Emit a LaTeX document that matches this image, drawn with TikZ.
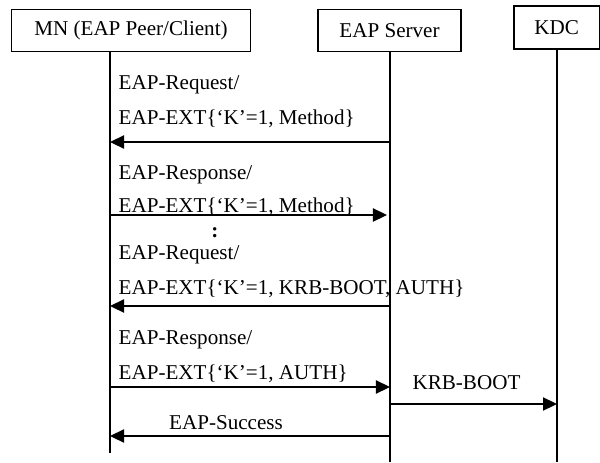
\documentclass[tikz,border=0pt]{standalone}
\usepackage{fontspec}
\setmainfont{Liberation Serif}
\usetikzlibrary{arrows.meta}
\begin{document}
\begin{tikzpicture}
[x=0.025cm, y=-0.025cm, font=\fontsize{15}{18}\selectfont, draw=black, line width=1pt,
actor/.style={rectangle, draw, inner sep=0pt, minimum height=1.05cm},
msg/.style={anchor=base west, inner sep=0pt},
lbl/.style={anchor=base, inner sep=0pt},
call/.style={-{Triangle[length=3.5mm, width=3.3mm]}}
]
\useasboundingbox (0,0) rectangle (600,462);

\node[actor, minimum width=5.975cm] (mn) at (131,30.5) {MN (EAP Peer/Client)};
\node[actor, minimum width=3.575cm] (srv) at (389.5,30.5) {EAP Server};
\node[actor, minimum width=2.1375cm, minimum height=1.075cm] (kdc) at (556.75,27.5) {KDC};

\coordinate (mnend) at (110,453);
\coordinate (srvend) at (390,462);
\coordinate (kdcend) at (557,462);
\draw (mn.south -| mnend) -- (mnend);
\draw (srv.south -| srvend) -- (srvend);
\draw (kdc.south -| kdcend) -- (kdcend);

\node[msg] (req1) at (118,89) {EAP-Request/};
\node[msg] (ext1) at (118,124) {EAP-EXT\{‘K’=1, Method\}};
\coordinate (mn1) at (110,142);
\coordinate (srv1) at (390,142);
\draw[call] (srv1) -- (mn1);

\node[msg] (resp1) at (118,179) {EAP-Response/};
\node[msg] (ext2) at (118,212) {EAP-EXT\{‘K’=1, Method\}};
\coordinate (mn2) at (110,215);
\coordinate (srv2) at (387,215);
\draw[call] (mn2) -- (srv2);

\node[lbl] (dots) at (215,237) {\textbf{:}};

\node[msg] (req2) at (118,259) {EAP-Request/};
\node[msg] (ext3) at (118,294) {EAP-EXT\{‘K’=1, KRB-BOOT, AUTH\}};
\coordinate (mn3) at (110,306);
\coordinate (srv3) at (390,306);
\draw[call] (srv3) -- (mn3);

\node[msg] (resp2) at (118,344) {EAP-Response/};
\node[msg] (ext4) at (118,379) {EAP-EXT\{‘K’=1, AUTH\}};
\coordinate (mn4) at (110,387);
\coordinate (srv4) at (390,387);
\draw[call] (mn4) -- (srv4);

\node[lbl] (boot) at (466.5,389) {KRB-BOOT};
\coordinate (srv5) at (390,404);
\coordinate (kdc5) at (557,404);
\draw[call] (srv5) -- (kdc5);

\node[lbl] (succ) at (226,429) {EAP-Success};
\coordinate (mn6) at (110,436);
\coordinate (srv6) at (391,436);
\draw[call] (srv6) -- (mn6);
\end{tikzpicture}
\end{document}
